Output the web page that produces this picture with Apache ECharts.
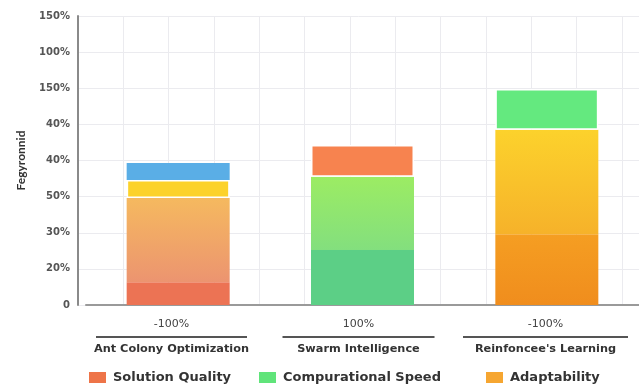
<!DOCTYPE html>
<html>
<head>
<meta charset="utf-8">
<script src="https://cdn.jsdelivr.net/npm/echarts@6/dist/echarts.min.js"></script>
<style>html,body{margin:0;padding:0;background:#fff;}#c{width:639px;height:386px;}</style>
</head>
<body>
<div id="c"></div>
<script>
// ---- data ----
const categories = ['Ant Colony Optimization', 'Swarm Intelligence', "Reinfoncee's Learning"];
const topLabels = ['-100%', '100%', '-100%'];
const yTickLabels = ['0', '20%', '30%', '50%', '40%', '40%', '150%', '100%', '150%'];
const layer1 = [0.63, 1.52, 1.96];   // Solution Quality
const layer2 = [2.33, 2.03, 2.89];   // Compurational Speed
const layer3 = [0.50, 0.88, 1.13];   // Adaptability
const layer4 = [0.47, '-', '-'];     // extra top segment
const seriesNames = ['Solution Quality', 'Compurational Speed', 'Adaptability'];

// ---- styles ----
const FONT = 'DejaVu Sans';
function grad(top, bottom) {
  return {type: 'linear', x: 0, y: 0, x2: 0, y2: 1, colorStops: [{offset: 0, color: top}, {offset: 1, color: bottom}]};
}
const c1 = ['#ec7354', '#5ccf86', grad('#f59e22', '#f08d1d')];
const c2 = [grad('#f5b95f', '#ec9470'), grad('#9cec63', '#83df7e'), grad('#fcd22c', '#f6b22a')];
const c3 = ['#fcd22a', '#f7834f', '#64e97f'];
const c4 = ['#5aaee6', '#5aaee6', '#5aaee6'];
const sepWidths = [151, 152, 165];

function items(vals, cols) {
  return vals.map((v, i) => ({value: v, itemStyle: {color: cols[i]}}));
}

const rich = {
  v: {fontFamily: FONT, fontSize: 11, color: '#444', lineHeight: 16},
  n: {fontFamily: FONT, fontSize: 11.3, fontWeight: 'bold', color: '#333', lineHeight: 14}
};
sepWidths.forEach((w, i) => {
  rich['s' + i] = {width: w, height: 2, backgroundColor: '#555', lineHeight: 10, fontSize: 2};
});

const chart = echarts.init(document.getElementById('c'));
chart.setOption({
  backgroundColor: '#fff',
  animation: false,
  grid: [
    {left: 78, right: -2, top: 16, height: 289},
    {left: 86, right: -4, top: 16, height: 289}
  ],
  xAxis: [
    {type: 'value', gridIndex: 0, position: 'top', min: 0, max: 563 / 45.5, interval: 1,
      axisLine: {show: false}, axisTick: {show: false}, axisLabel: {show: false},
      splitLine: {show: true, lineStyle: {color: '#ebebef', width: 1}}},
    {type: 'category', gridIndex: 0, position: 'bottom', data: categories,
      axisLine: {show: false}, axisTick: {show: false}, splitLine: {show: false},
      axisLabel: {margin: 11, interval: 0,
        formatter: (v, i) => '{v|' + topLabels[i] + '}\n{s' + i + '| }\n{n|' + v + '}',
        rich: rich}},
    {type: 'category', gridIndex: 1, position: 'bottom', data: categories, offset: 8,
      axisLine: {show: true, lineStyle: {color: '#9a9a9a', width: 2}},
      axisTick: {show: false}, axisLabel: {show: false}, splitLine: {show: false}}
  ],
  yAxis: [
    {type: 'value', gridIndex: 0, min: 0, max: 8, interval: 1,
      name: 'Fegyronnid', nameLocation: 'middle', nameGap: 51,
      nameTextStyle: {fontFamily: 'Lato', fontSize: 12, color: '#333', fontWeight: 'bold'},
      axisLine: {show: true, lineStyle: {color: '#8a8a8a', width: 2}},
      axisTick: {show: false},
      axisLabel: {margin: 8, fontFamily: FONT, fontSize: 10, fontWeight: 'bold', color: '#555',
        formatter: v => yTickLabels[Math.round(v)]},
      splitLine: {show: true, lineStyle: {color: '#ebebef', width: 1}}},
    {type: 'value', gridIndex: 1, min: 0, max: 8, show: false}
  ],
  legend: [
    {data: [seriesNames[0]], left: 89, top: 371},
    {data: [seriesNames[1]], left: 259, top: 371},
    {data: [seriesNames[2]], left: 486, top: 371}
  ].map(l => Object.assign(l, {
    icon: 'rect', itemWidth: 17, itemHeight: 11, itemGap: 0, padding: 0,
    selectedMode: false,
    textStyle: {fontFamily: FONT, fontSize: 13, fontWeight: 'bold', color: '#333', padding: [0, 0, 0, 2]}
  })),
  series: [
    {name: seriesNames[0], type: 'bar', stack: 'a', xAxisIndex: 2, yAxisIndex: 1, barWidth: 103,
      itemStyle: {color: '#ee7448'}, data: items(layer1, c1)},
    {name: seriesNames[1], type: 'bar', stack: 'a', xAxisIndex: 2, yAxisIndex: 1, barWidth: 103,
      itemStyle: {color: '#60e47a'}, data: items(layer2, c2)},
    {name: seriesNames[2], type: 'bar', stack: 'a', xAxisIndex: 2, yAxisIndex: 1, barWidth: 103,
      itemStyle: {color: '#f6a631'},
      data: layer3.map((v, i) => ({value: v, itemStyle: {color: c3[i], borderColor: '#fff', borderWidth: 1.5}}))},
    {name: 'Extra', type: 'bar', stack: 'a', xAxisIndex: 2, yAxisIndex: 1, barWidth: 103,
      itemStyle: {color: '#5aaee6'}, data: items(layer4, c4)}
  ]
});
</script>
</body>
</html>
